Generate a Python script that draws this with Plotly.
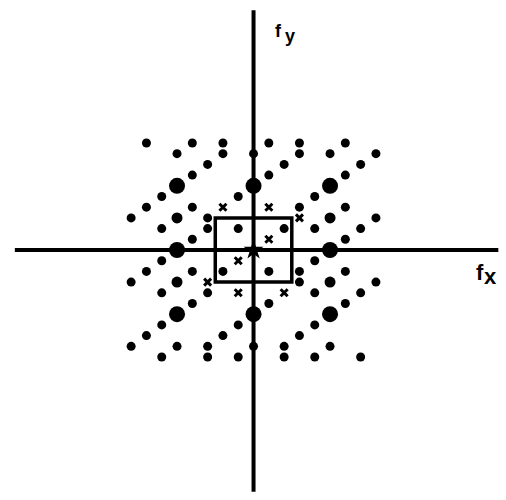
import plotly.graph_objects as go

# small sample points (fx, fy) in grid units
dot_x = [-7, -4, -2, -2, -5, -3, -4, -6, -1, -7, -4, -8, -3, -3, -6, -1, -4,
         0, 1, 3, 3, 6, 8, 5, 2, 1, 7, 6, 4, 3, 6, 8, 4, 2, 7, 6,
         0, -1, -3, -3, -6, -8, -5, -2, -1, -7, -6, -4, -3, -6, -8, -4, -2, -7, -6,
         7, 4, 2, 2, 5, 3, 4, 6, 1, 7, 4, 8, 3, 3, 6, 1, 4]
dot_y = [10, 10, 10, 9, 9, 8, 7, 5, 5, 4, 4, 3, 3, 2, 2, 2, 1,
         9, 10, 10, 9, 10, 9, 9, 8, 7, 8, 7, 5, 4, 4, 3, 2, 2, 2, 1,
         -9, -10, -10, -9, -10, -9, -9, -8, -7, -8, -7, -5, -4, -4, -3, -2, -2, -2, -1,
         -10, -10, -10, -9, -9, -8, -7, -5, -5, -4, -4, -3, -3, -2, -2, -2, -1]

# smeared dots
blob_x = [-5, 5, -5, 5]
blob_y = [3, 3, -3, -3]

# large dots
big_x = [-5, 0, 5, -5, 5, -5, 0, 5]
big_y = [6, 6, 6, 0, 0, -6, -6, -6]

# crosses
cross_x = [-2, 1, 3, 1, -1, -3, -1, 2]
cross_y = [4, 4, 3, 1, -1, -3, -4, -4]

box_half_x = 2.5
box_half_y = 3

fig = go.Figure()

# axes
fig.add_trace(go.Scatter(x=[-15.6, 16.0], y=[0, 0], mode="lines",
                         line=dict(color="black", width=4), hoverinfo="skip"))
fig.add_trace(go.Scatter(x=[0, 0], y=[-22.6, 22.4], mode="lines",
                         line=dict(color="black", width=4), hoverinfo="skip"))

# passband box
fig.add_shape(type="rect", x0=-box_half_x, x1=box_half_x, y0=-box_half_y, y1=box_half_y,
              line=dict(color="black", width=3.5))

fig.add_trace(go.Scatter(x=dot_x, y=dot_y, mode="markers",
                         marker=dict(color="black", size=9, line=dict(width=0))))
fig.add_trace(go.Scatter(x=blob_x, y=blob_y, mode="markers",
                         marker=dict(color="black", size=11, line=dict(width=0))))
fig.add_trace(go.Scatter(x=big_x, y=big_y, mode="markers",
                         marker=dict(color="black", size=16, line=dict(width=0))))
fig.add_trace(go.Scatter(x=cross_x, y=cross_y, mode="markers",
                         marker=dict(symbol="x-thin", color="black", size=7,
                                     line=dict(color="black", width=3))))
fig.add_trace(go.Scatter(x=[0], y=[0], mode="markers",
                         marker=dict(symbol="star", color="black", size=15)))

lab = dict(family="Liberation Sans", color="black", weight="bold")
fig.add_annotation(x=14.8, y=-2.06, text="f", showarrow=False, font=dict(size=22, **lab))
fig.add_annotation(x=15.46, y=-2.52, text="x", showarrow=False, font=dict(size=22, **lab))
fig.add_annotation(x=1.6, y=20.47, text="f", showarrow=False, font=dict(size=18, **lab))
fig.add_annotation(x=2.39, y=20.0, text="y", showarrow=False, font=dict(size=18, **lab))

fig.update_layout(
    width=506, height=500,
    margin=dict(l=0, r=0, t=0, b=0),
    paper_bgcolor="white", plot_bgcolor="white",
    showlegend=False,
    xaxis=dict(range=[-16.57, 16.5], visible=False),
    yaxis=dict(range=[-23.36, 23.36], visible=False),
)

fig.write_html("out.html", config={"displayModeBar": False},
               post_script="document.body.style.margin='0';")
